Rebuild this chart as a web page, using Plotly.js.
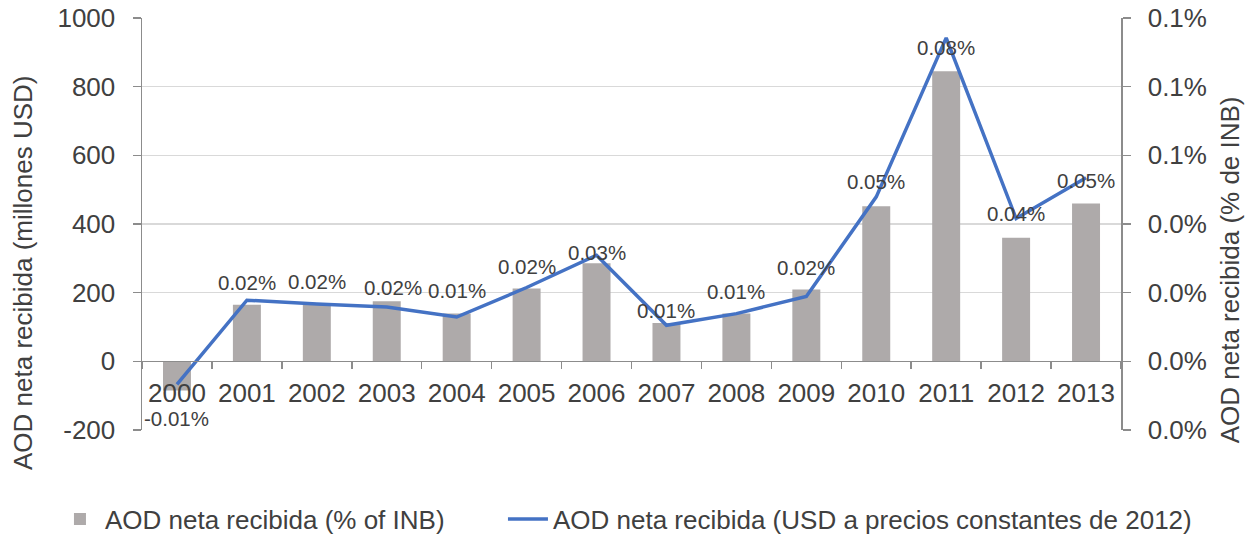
<!DOCTYPE html>
<html>
<head>
<meta charset="utf-8">
<script src="https://cdn.plot.ly/plotly-3.0.1.min.js"></script>
<style>html,body{margin:0;padding:0;background:#fff;}#chart{width:1251px;height:535px;}</style>
</head>
<body>
<div id="chart"></div>
<script>
// Data
const years = ['2000','2001','2002','2003','2004','2005','2006','2007','2008','2009','2010','2011','2012','2013'];
// Bars (left axis, millones USD)
const barValues = [-85, 165, 168, 175, 139, 212, 286, 112, 139, 209, 452, 845, 360, 460];
// Line (right axis, % de INB, in percent units)
const lineValues = [-0.0067, 0.0178, 0.0167, 0.0158, 0.0129, 0.0215, 0.0309, 0.0105, 0.0139, 0.0189, 0.0479, 0.0942, 0.0416, 0.0535];
// Data labels shown on the line
const lineLabels = ['-0.01%','0.02%','0.02%','0.02%','0.01%','0.02%','0.03%','0.01%','0.01%','0.02%','0.05%','0.08%','0.04%','0.05%'];
// Axis ticks
const leftTickVals = [-200, 0, 200, 400, 600, 800, 1000];
const leftTickText = ['-200','0','200','400','600','800','1000'];
const rightTickVals = [-0.02, 0, 0.02, 0.04, 0.06, 0.08, 0.10];
const rightTickText = ['0.0%','0.0%','0.0%','0.0%','0.1%','0.1%','0.1%'];
// Label offsets (style, px)
const labelShiftY = [-34, 18, 23, 20, 27, 21, 3, 15, 22, 29, 15, -10, 5, -3];
const labelShiftX = [0, 0, 0, 6, 0, 0, 0, 0, 0, 0, 0, 0, 0, 0];

const FONT = 'Liberation Sans, Arial, sans-serif';
const TXT = '#404040';
const AX = '#8c8c8c';

const traces = [
  {
    type: 'bar', x: years, y: barValues, yaxis: 'y',
    name: 'AOD neta recibida (% of INB)',
    marker: {color: '#AEAAAA'},
    legend: 'legend',
    hoverinfo: 'x+y'
  },
  {
    type: 'scatter', mode: 'lines', x: years, y: lineValues, yaxis: 'y2',
    name: 'AOD neta recibida (USD a precios constantes de 2012)',
    line: {color: '#4472C4', width: 3.5},
    legend: 'legend2'
  }
];

const annotations = years.map((yr, i) => ({
  x: i, y: lineValues[i], xref: 'x', yref: 'y2',
  text: lineLabels[i], showarrow: false,
  xanchor: 'center', yanchor: 'middle',
  yshift: labelShiftY[i], xshift: labelShiftX[i],
  font: {family: FONT, size: 20.5, color: TXT}
}));
annotations.push({
  xref: 'paper', yref: 'paper', x: -0.1216, y: 0.381,
  text: 'AOD neta recibida (millones USD)', textangle: -90, showarrow: false,
  xanchor: 'center', yanchor: 'middle',
  font: {family: FONT, size: 26, color: TXT}
});
annotations.push({
  xref: 'paper', yref: 'paper', x: 1.1113, y: 0.39,
  text: 'AOD neta recibida (% de INB)', textangle: -90, showarrow: false,
  xanchor: 'center', yanchor: 'middle',
  font: {family: FONT, size: 26, color: TXT}
});

const legendBase = {
  orientation: 'h', y: -0.216, yanchor: 'middle', xanchor: 'left',
  font: {family: FONT, size: 26, color: TXT},
  itemwidth: 40, bgcolor: 'rgba(0,0,0,0)'
};

const layout = {
  width: 1251, height: 535,
  margin: {l: 142, r: 130, t: 18, b: 105, pad: 0, autoexpand: false},
  paper_bgcolor: '#fff', plot_bgcolor: '#fff',
  font: {family: FONT, color: TXT},
  bargap: 0.6,
  showlegend: true,
  legend: Object.assign({}, legendBase, {x: -0.0889}),
  legend2: Object.assign({}, legendBase, {x: 0.3687}),
  xaxis: {
    type: 'category',
    range: [-0.5, 13.5], autorange: false,
    anchor: 'free', position: 0.1675,
    showline: true, linecolor: AX, linewidth: 1.5,
    ticks: 'outside', tickson: 'boundaries', ticklen: 7, tickcolor: AX, tickwidth: 1.5,
    ticklabelstandoff: 8, tickangle: 0,
    tickfont: {family: FONT, size: 26, color: TXT},
    showgrid: false, zeroline: false
  },
  yaxis: {
    range: [-200, 1000], autorange: false,
    tickvals: leftTickVals, ticktext: leftTickText,
    ticks: 'outside', ticklen: 8, tickcolor: AX, tickwidth: 1.5,
    ticklabelstandoff: 12,
    showline: true, linecolor: AX, linewidth: 1.5,
    showgrid: true, gridcolor: '#D9D9D9', gridwidth: 1.5,
    zeroline: false,
    tickfont: {family: FONT, size: 26, color: TXT}
  },
  yaxis2: {
    overlaying: 'y', side: 'right',
    range: [-0.02, 0.10], autorange: false,
    tickvals: rightTickVals, ticktext: rightTickText,
    ticks: 'outside', ticklen: 8, tickcolor: AX, tickwidth: 1.5,
    ticklabelstandoff: 12,
    showline: true, linecolor: AX, linewidth: 1.5,
    showgrid: false, zeroline: false,
    tickfont: {family: FONT, size: 26, color: TXT}
  },
  annotations: annotations
};

Plotly.newPlot('chart', traces, layout, {displayModeBar: false, staticPlot: true});
</script>
</body>
</html>
